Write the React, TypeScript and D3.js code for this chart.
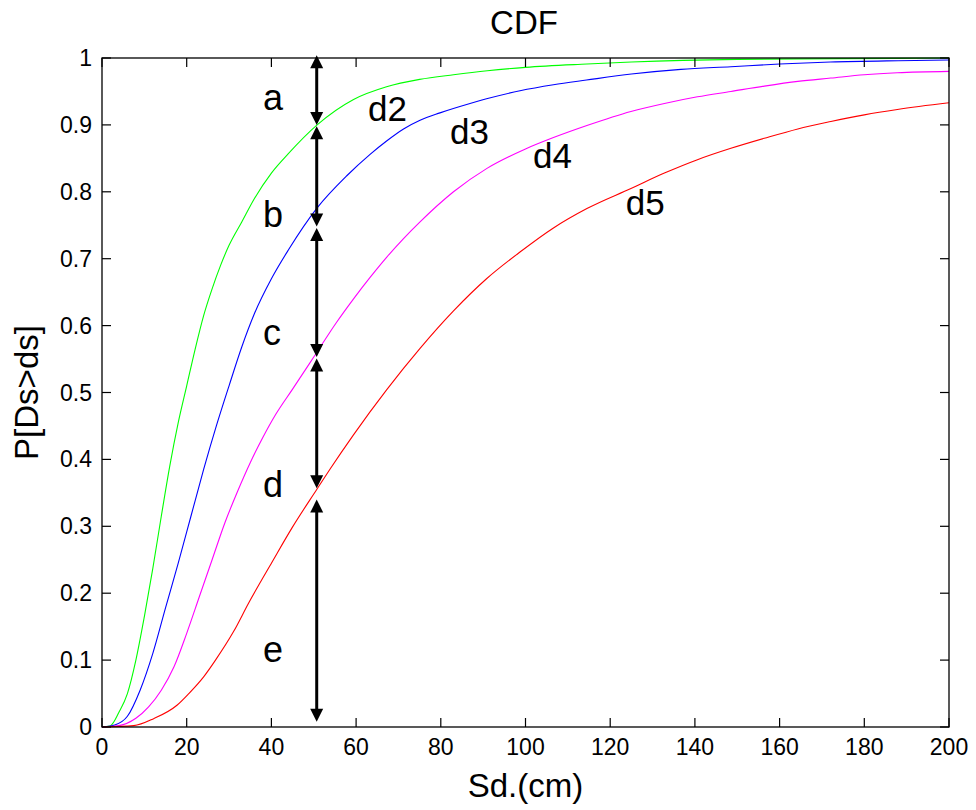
import React from "react";
import * as d3 from "d3";

// ---- data ----
const d2X = [0, 2, 4, 6, 8, 10, 12, 14, 16, 18, 20, 22, 24, 26, 28, 30, 33, 36, 40, 44, 50.8, 59.4, 67.2, 75, 83, 91, 100, 114.5, 125, 150, 175, 200];
const d2Y = [0, 0.002, 0.022, 0.05, 0.1, 0.165, 0.237, 0.315, 0.39, 0.455, 0.51, 0.565, 0.615, 0.655, 0.69, 0.72, 0.755, 0.79, 0.828, 0.857, 0.9, 0.938, 0.957, 0.968, 0.975, 0.981, 0.986, 0.991, 0.994, 0.998, 0.999, 1.0];

const d3X = [0, 3, 6, 9, 12, 15, 18, 21, 24, 27, 30, 33, 36, 40, 44, 50.8, 57.8, 63.3, 67.2, 71.2, 75.1, 79.8, 86.9, 90.8, 98.7, 106.6, 114.4, 125, 136.7, 148.5, 160, 172, 188, 200];
const d3Y = [0, 0.003, 0.016, 0.055, 0.11, 0.178, 0.245, 0.315, 0.385, 0.45, 0.51, 0.568, 0.618, 0.67, 0.713, 0.776, 0.824, 0.856, 0.876, 0.894, 0.907, 0.918, 0.932, 0.939, 0.951, 0.96, 0.967, 0.976, 0.983, 0.987, 0.991, 0.994, 0.996, 0.997];

const d4X = [0, 4, 8, 11, 14, 17, 20, 23, 26, 29, 32, 35, 38, 41, 45, 50, 55.4, 59.4, 63.3, 67.2, 71.2, 75.1, 83, 90.9, 100, 106.6, 114.5, 124.9, 132.8, 140.6, 148.5, 156.4, 164.3, 172.1, 180, 187.8, 200];
const d4Y = [0, 0.002, 0.013, 0.03, 0.055, 0.09, 0.14, 0.195, 0.25, 0.305, 0.352, 0.395, 0.433, 0.467, 0.505, 0.553, 0.605, 0.64, 0.672, 0.702, 0.73, 0.755, 0.8, 0.835, 0.864, 0.881, 0.899, 0.92, 0.932, 0.942, 0.95, 0.958, 0.965, 0.97, 0.975, 0.978, 0.98];

const d5X = [0, 7.5, 12.2, 17.7, 20.5, 24, 26.8, 31.1, 34.6, 40.2, 44.9, 50.7, 53.9, 59.3, 67.2, 75.1, 83, 90.8, 98.7, 106.6, 114.5, 124.9, 132.8, 140.6, 148.5, 156.4, 164.3, 172.1, 180, 187.8, 200];
const d5Y = [0, 0.002, 0.0125, 0.0325, 0.05, 0.075, 0.1, 0.143, 0.185, 0.247, 0.298, 0.355, 0.386, 0.436, 0.504, 0.566, 0.622, 0.67, 0.71, 0.746, 0.775, 0.805, 0.828, 0.848, 0.865, 0.88, 0.894, 0.905, 0.915, 0.923, 0.933];

const seriesNames = ["d2", "d3", "d4", "d5"];
const seriesColors = ["#00ff00", "#0000ff", "#ff00ff", "#ff0000"];

const xTicks = [0, 20, 40, 60, 80, 100, 120, 140, 160, 180, 200];
const yTicks = [0, 0.1, 0.2, 0.3, 0.4, 0.5, 0.6, 0.7, 0.8, 0.9, 1];

// annotation arrow at Sd = 50.7 and its segments
const arrowX = 50.7;
const arrowFrom = [1.004, 0.898, 0.746, 0.551, 0.34];
const arrowTo = [0.9, 0.748, 0.553, 0.357, 0.008];
const segLabels = ["a", "b", "c", "d", "e"];
const segLabelX = [38, 38, 38, 38, 38];
const segLabelY = [0.922, 0.747, 0.571, 0.344, 0.097];

const curveLabelX = [62.8, 82.2, 101.8, 123.7];
const curveLabelY = [0.906, 0.871, 0.836, 0.765];

const W = 976, H = 810;
const L = 102, R = 949, T = 58, B = 727;
const FONT = "Arial, 'Liberation Sans', Helvetica, sans-serif";

export default function App() {
  const x = d3.scaleLinear().domain([0, 200]).range([L, R]);
  const y = d3.scaleLinear().domain([0, 1]).range([B, T]);
  const line = d3.line<[number, number]>().x(d => x(d[0])).y(d => y(d[1])).curve(d3.curveMonotoneX);
  const xs = [d2X, d3X, d4X, d5X];
  const ys = [d2Y, d3Y, d4Y, d5Y];
  const tickLen = 9;
  const headLen = 13, headHalf = 6.5;
  const ax = x(arrowX);

  return (
    <svg width={W} height={H} style={{ position: "absolute", left: 0, top: 0, background: "#fff" }} fontFamily={FONT}>
      <rect x={0} y={0} width={W} height={H} fill="#fff" />
      {/* curves */}
      {xs.map((xv, i) => (
        <path key={seriesNames[i]} d={line(xv.map((v, j) => [v, ys[i][j]] as [number, number])) || ""}
          fill="none" stroke={seriesColors[i]} strokeWidth={1.1} />
      ))}
      {/* box */}
      <rect x={L} y={T} width={R - L} height={B - T} fill="none" stroke="#000" strokeWidth={1.3} />
      {/* ticks */}
      {xTicks.map(t => (
        <g key={"xt" + t}>
          <line x1={x(t)} x2={x(t)} y1={B} y2={B - tickLen} stroke="#000" strokeWidth={1.2} />
          <line x1={x(t)} x2={x(t)} y1={T} y2={T + tickLen} stroke="#000" strokeWidth={1.2} />
          <text x={x(t)} y={B + 28} fontSize={23} textAnchor="middle">{t}</text>
        </g>
      ))}
      {yTicks.map(t => (
        <g key={"yt" + t}>
          <line x1={L} x2={L + tickLen} y1={y(t)} y2={y(t)} stroke="#000" strokeWidth={1.2} />
          <line x1={R} x2={R - tickLen} y1={y(t)} y2={y(t)} stroke="#000" strokeWidth={1.2} />
          <text x={L - 10} y={y(t) + 8} fontSize={23} textAnchor="end">{String(t)}</text>
        </g>
      ))}
      {/* arrows */}
      {arrowFrom.map((f, i) => {
        const yTop = y(f), yBot = y(arrowTo[i]);
        return (
          <g key={"ar" + i}>
            <line x1={ax} x2={ax} y1={yTop + headLen - 1} y2={yBot - headLen + 1} stroke="#000" strokeWidth={3} />
            <path d={`M${ax},${yTop}L${ax - headHalf},${yTop + headLen}L${ax + headHalf},${yTop + headLen}Z`} fill="#000" />
            <path d={`M${ax},${yBot}L${ax - headHalf},${yBot - headLen}L${ax + headHalf},${yBot - headLen}Z`} fill="#000" />
          </g>
        );
      })}
      {segLabels.map((s, i) => (
        <text key={"sl" + s} x={x(segLabelX[i])} y={y(segLabelY[i])} fontSize={36}>{s}</text>
      ))}
      {seriesNames.map((s, i) => (
        <text key={"cl" + s} x={x(curveLabelX[i])} y={y(curveLabelY[i])} fontSize={35}>{s}</text>
      ))}
      {/* titles */}
      <text x={524} y={34} fontSize={33} textAnchor="middle">CDF</text>
      <text x={(L + R) / 2} y={797} fontSize={33} textAnchor="middle">Sd.(cm)</text>
      <text transform={`translate(38,${(T + B) / 2}) rotate(-90)`} fontSize={33} textAnchor="middle">P[Ds&gt;ds]</text>
    </svg>
  );
}
